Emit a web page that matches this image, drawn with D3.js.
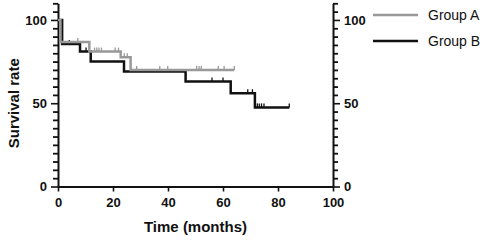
<!DOCTYPE html>
<html>
<head>
<meta charset="utf-8">
<script src="https://cdn.jsdelivr.net/npm/d3@7"></script>
<style>
  body { margin: 0; background: #fff; }
  svg { display: block; }
  text { font-family: "Liberation Sans", Arial, sans-serif; fill: #111; }
</style>
</head>
<body>
<div id="chart"></div>
<script>
// Kaplan-Meier style survival curves, two groups

// Group A (gray): step times and survival after each step
const groupATimes = [0, 0.9, 11.4, 22.8, 26.4, 64.1];
const groupASurv  = [100, 86.8, 81, 77.6, 70, 70];
const groupACensor = [7.2, 13.3, 14.1, 14.9, 15.8, 20.8, 22, 24.1, 25.2, 28.6, 37, 39.9, 50.4, 51.3, 52.1, 58.3, 60.4, 64.1];

// Group B (black)
const groupBTimes = [0, 1.5, 8, 11.9, 24, 46.4, 62.8, 71.6, 84.1];
const groupBSurv  = [100, 85.5, 81, 75, 69, 63, 56, 47.5, 47.5];
const groupBCensor = [4.1, 10.2, 56, 60, 69, 70.7, 72.5, 73.2, 74, 74.9, 84.1];

const seriesNames = ["Group A", "Group B"];
const xTicks = [0, 20, 40, 60, 80, 100];
const yTicks = [0, 50, 100];
const yMinorTicks = [5, 10, 15, 20, 25, 30, 35, 40, 45, 55, 60, 65, 70, 75, 80, 85, 90, 95, 105, 110];

const width = 486, height = 240;
const margin = { top: 3.3, right: 153, bottom: 53.5, left: 58 };

const svg = d3.select("#chart").append("svg")
  .attr("width", width)
  .attr("height", height);

const x = d3.scaleLinear().domain([0, 100]).range([margin.left, width - margin.right]);
const y = d3.scaleLinear().domain([0, 110]).range([height - margin.bottom, margin.top]);

// value at time t for a step series
function survAt(times, surv, t) {
  let v = surv[0];
  times.forEach((tt, i) => { if (tt <= t) v = surv[i]; });
  return v;
}

function styleAxis(g) {
  g.select(".domain").attr("stroke", "#111").attr("stroke-width", 2);
  g.selectAll(".tick line").attr("stroke", "#111").attr("stroke-width", 1.6);
  g.selectAll("text")
    .style("font-size", "13px")
    .style("font-weight", "bold")
    .attr("fill", "#111");
}

// minor ticks on both y axes
svg.append("g")
  .attr("transform", `translate(${x(0)},0)`)
  .call(d3.axisLeft(y).tickValues(yMinorTicks).tickSize(5).tickFormat(() => "").tickSizeOuter(0))
  .call(g => g.selectAll(".tick line").attr("stroke", "#111").attr("stroke-width", 1.8));
svg.append("g")
  .attr("transform", `translate(${x(100)},0)`)
  .call(d3.axisRight(y).tickValues(yMinorTicks).tickSize(5).tickFormat(() => "").tickSizeOuter(0))
  .call(g => g.selectAll(".tick line").attr("stroke", "#111").attr("stroke-width", 1.8));

// major y axes
svg.append("g")
  .attr("transform", `translate(${x(0)},0)`)
  .call(d3.axisLeft(y).tickValues(yTicks).tickSize(7).tickPadding(4).tickSizeOuter(0))
  .call(styleAxis);
svg.append("g")
  .attr("transform", `translate(${x(100)},0)`)
  .call(d3.axisRight(y).tickValues(yTicks).tickSize(7).tickPadding(4).tickSizeOuter(0))
  .call(styleAxis);

// x axis
svg.append("g")
  .attr("transform", `translate(0,${y(0)})`)
  .call(d3.axisBottom(x).tickValues(xTicks).tickSize(5).tickPadding(6).tickSizeOuter(0))
  .call(styleAxis);

// Axis titles
svg.append("text")
  .attr("x", (x(0) + x(100)) / 2)
  .attr("y", 232)
  .attr("text-anchor", "middle")
  .style("font-size", "15px")
  .style("font-weight", "bold")
  .text("Time (months)");

svg.append("text")
  .attr("transform", `translate(19,${(y(0) + y(100)) / 2}) rotate(-90)`)
  .attr("text-anchor", "middle")
  .style("font-size", "15px")
  .style("font-weight", "bold")
  .text("Survival rate");

// Survival curves (black first, gray on top)
const series = [
  { name: seriesNames[1], times: groupBTimes, surv: groupBSurv, censor: groupBCensor, color: "#111" },
  { name: seriesNames[0], times: groupATimes, surv: groupASurv, censor: groupACensor, color: "#999" }
];

const line = d3.line()
  .x(d => x(d[0]))
  .y(d => y(d[1]))
  .curve(d3.curveStepAfter);

series.forEach(s => {
  const pts = s.times.map((t, i) => [t, s.surv[i]]);
  svg.append("path")
    .datum(pts)
    .attr("fill", "none")
    .attr("stroke", s.color)
    .attr("stroke-width", 2.5)
    .attr("d", line);

  svg.append("g").selectAll("line")
    .data(s.censor).join("line")
    .attr("x1", d => x(d)).attr("x2", d => x(d))
    .attr("y1", d => y(survAt(s.times, s.surv, d)))
    .attr("y2", d => y(survAt(s.times, s.surv, d)) - 4)
    .attr("stroke", s.color)
    .attr("stroke-width", 1.3);
});

// Legend
const legend = svg.append("g").attr("transform", "translate(373,15)");
[{ name: seriesNames[0], color: "#999" }, { name: seriesNames[1], color: "#111" }].forEach((s, i) => {
  const row = legend.append("g").attr("transform", `translate(0,${i * 26})`);
  row.append("line")
    .attr("x1", 0).attr("x2", 45)
    .attr("stroke", s.color).attr("stroke-width", 2.5);
  row.append("text")
    .attr("x", 55).attr("y", 0)
    .attr("dy", "0.35em")
    .style("font-size", "14px")
    .text(s.name);
});
</script>
</body>
</html>
